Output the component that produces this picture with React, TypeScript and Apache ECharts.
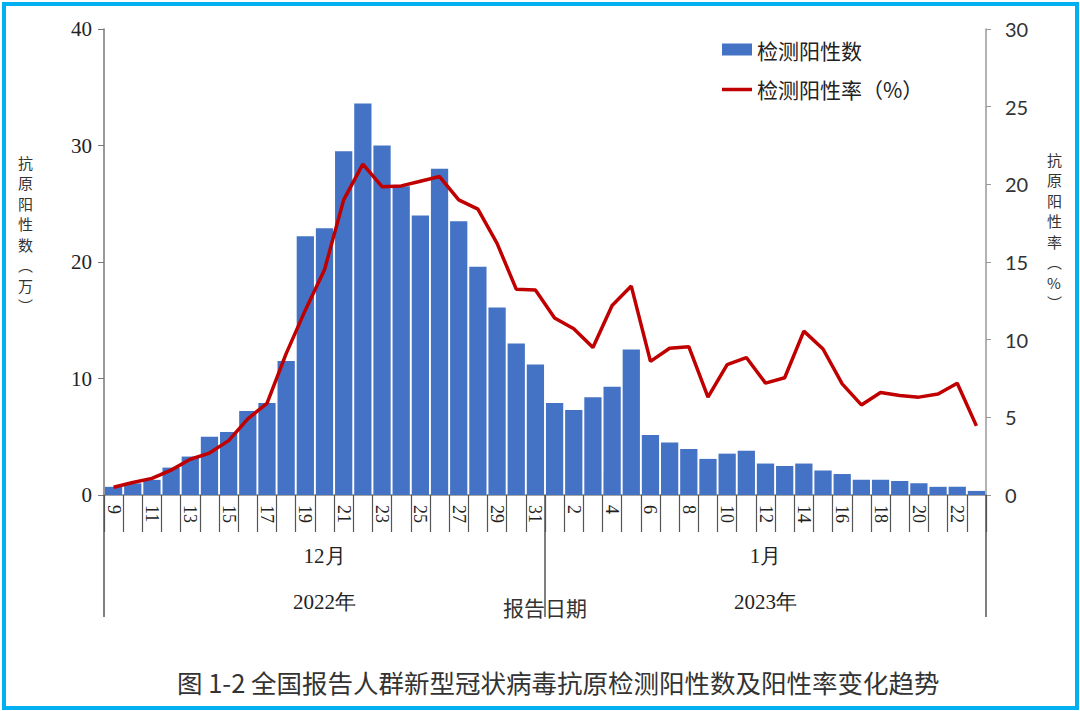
import React, { useEffect, useRef } from "react";
import * as echarts from "echarts";

// Report dates: 9–31 December 2022, then 1–23 January 2023
const decDays = Array.from({ length: 23 }, (_, i) => String(i + 9));
const janDays = Array.from({ length: 23 }, (_, i) => String(i + 1));
const dayLabels = [...decDays, ...janDays];

const monthLabels = ["12月", "1月"];
const yearLabels = ["2022年", "2023年"];

// Antigen positive count (10k people)
const positiveCount = [
  0.7, 1.0, 1.3, 2.35, 3.3, 5.0, 5.4, 7.2, 7.9, 11.5, 22.2, 22.9, 29.5, 33.6, 30.0,
  26.5, 24.0, 28.0, 23.5, 19.6, 16.1, 13.0, 11.2,
  7.9, 7.3, 8.4, 9.3, 12.5, 5.15, 4.5, 3.95, 3.1, 3.55, 3.8, 2.7, 2.5, 2.7, 2.1,
  1.8, 1.3, 1.3, 1.2, 1.0, 0.7, 0.7, 0.35,
];

// Antigen positive rate (%)
const positiveRate = [
  0.5, 0.8, 1.07, 1.6, 2.3, 2.7, 3.5, 4.9, 5.9, 9.1, 11.9, 14.5, 19.0, 21.3, 19.85,
  19.9, 20.2, 20.5, 19.0, 18.4, 16.2, 13.25, 13.2,
  11.4, 10.7, 9.5, 12.2, 13.45, 8.6, 9.45, 9.55, 6.3, 8.4, 8.85, 7.2, 7.55, 10.55,
  9.4, 7.15, 5.8, 6.6, 6.4, 6.3, 6.5, 7.2, 4.45,
];

const W = 1080;
const H = 711;
const GRID = { left: 104, right: 94, top: 29, bottom: 216 };

const SERIF = "'Liberation Serif', 'Times New Roman', serif";
const CJK = "'Noto Sans CJK SC', 'Noto Sans', sans-serif";
const SANS = "Lato, 'Liberation Sans', sans-serif";

export default function App() {
  const ref = useRef<HTMLDivElement>(null);

  useEffect(() => {
    document.body.style.margin = "0";
    const chart = echarts.init(ref.current!, undefined, { renderer: "svg" });
    const plotW = W - GRID.left - GRID.right;

    chart.setOption({
      animation: false,
      backgroundColor: "#ffffff",
      grid: { ...GRID, containLabel: false },
      legend: {
        orient: "vertical",
        left: 722,
        top: 39,
        padding: 0,
        itemWidth: 30,
        itemHeight: 12,
        itemGap: 19,
        textStyle: { fontFamily: CJK, fontSize: 21, color: "#222" },
        data: [
          { name: "检测阳性数", icon: "rect" },
          { name: "检测阳性率（%）", icon: "path://M0,0H30V3.5H0Z" },
        ],
      },
      xAxis: [
        {
          type: "category",
          data: dayLabels,
          position: "bottom",
          boundaryGap: true,
          axisLine: { show: true, lineStyle: { color: "#888", width: 1.5 } },
          axisTick: {
            show: true,
            interval: 0,
            length: 37,
            lineStyle: { color: "#555", width: 1.2 },
          },
          axisLabel: {
            interval: 1,
            rotate: -90,
            margin: 10,
            fontFamily: SERIF,
            fontSize: 18,
            color: "#222",
          },
        },
        {
          type: "category",
          data: monthLabels,
          position: "bottom",
          boundaryGap: true,
          axisLine: { show: false },
          axisTick: {
            show: true,
            interval: 0,
            length: 122,
            lineStyle: { color: "#555", width: 1.5 },
          },
          axisLabel: {
            margin: 50,
            fontFamily: SERIF,
            fontSize: 21,
            color: "#222",
          },
        },
        {
          type: "category",
          data: yearLabels,
          position: "bottom",
          boundaryGap: true,
          axisLine: { show: false },
          axisTick: { show: false },
          axisLabel: {
            margin: 96,
            fontFamily: SERIF,
            fontSize: 21,
            color: "#222",
          },
        },
      ],
      yAxis: [
        {
          type: "value",
          position: "left",
          min: 0,
          max: 40,
          interval: 10,
          splitLine: { show: false },
          axisLine: { show: true, lineStyle: { color: "#777", width: 1.5 } },
          axisTick: { show: true, length: 6, lineStyle: { color: "#777" } },
          axisLabel: {
            margin: 12,
            fontFamily: SERIF,
            fontSize: 21,
            color: "#222",
          },
        },
        {
          type: "value",
          position: "right",
          min: 0,
          max: 30,
          interval: 5,
          splitLine: { show: false },
          axisLine: { show: true, lineStyle: { color: "#999", width: 1.5 } },
          axisTick: { show: true, length: 5, lineStyle: { color: "#999" } },
          axisLabel: {
            margin: 19,
            fontFamily: SANS,
            fontSize: 20,
            color: "#333",
          },
        },
      ],
      series: [
        {
          name: "检测阳性数",
          type: "bar",
          xAxisIndex: 0,
          yAxisIndex: 0,
          data: positiveCount,
          barCategoryGap: "10%",
          itemStyle: { color: "#4472C4" },
          z: 2,
        },
        {
          name: "检测阳性率（%）",
          type: "line",
          xAxisIndex: 0,
          yAxisIndex: 1,
          data: positiveRate,
          symbol: "none",
          lineStyle: { color: "#C00000", width: 3.5 },
          itemStyle: { color: "#C00000" },
          z: 3,
        },
      ],
      graphic: [
        {
          type: "text",
          left: 18,
          top: 152,
          style: {
            text: "抗\n原\n阳\n性\n数\n︵\n万\n︶",
            fontFamily: CJK,
            fontSize: 15,
            lineHeight: 20.5,
            fill: "#333",
          },
        },
        {
          type: "text",
          left: 1047,
          top: 149,
          style: {
            text: "抗\n原\n阳\n性\n率\n︵\n%\n︶",
            fontFamily: CJK,
            fontSize: 15,
            lineHeight: 20.5,
            fill: "#333",
          },
        },
        {
          type: "text",
          left: GRID.left + plotW / 2 - 42,
          top: 596,
          z: -1,
          style: {
            text: "报告日期",
            fontFamily: CJK,
            fontSize: 21,
            fill: "#333",
          },
        },
        {
          type: "text",
          left: 177,
          top: 669,
          style: {
            text: "图 1-2 全国报告人群新型冠状病毒抗原检测阳性数及阳性率变化趋势",
            fontFamily: CJK,
            fontSize: 25.5,
            fill: "#333",
          },
        },
      ],
    });

    return () => chart.dispose();
  }, []);

  return (
    <div style={{ position: "fixed", left: 0, top: 0, width: W, height: H, background: "#fff" }}>
      <div ref={ref} style={{ position: "absolute", left: 0, top: 0, width: W, height: H }} />
      <div
        style={{
          position: "absolute",
          left: 2,
          top: 2,
          width: W - 3,
          height: H - 3,
          boxSizing: "border-box",
          border: "4px solid #00B0F0",
          pointerEvents: "none",
        }}
      />
    </div>
  );
}
